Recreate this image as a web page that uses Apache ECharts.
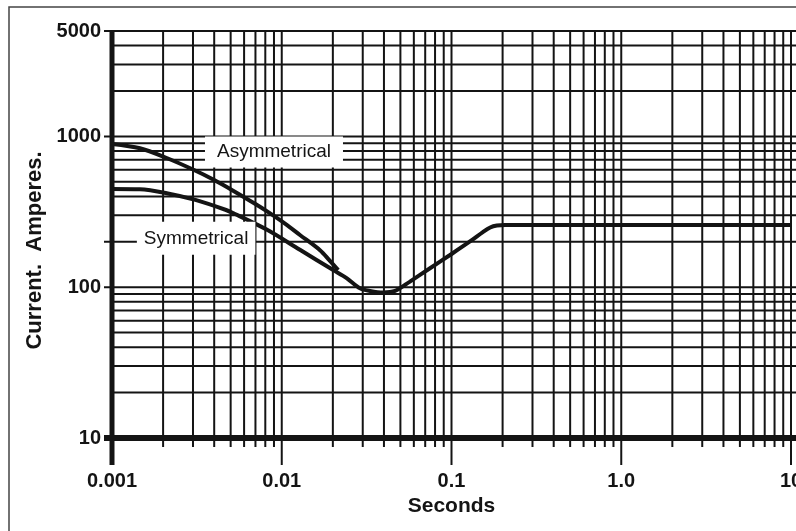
<!DOCTYPE html>
<html><head><meta charset="utf-8">
<script src="https://cdn.jsdelivr.net/npm/echarts@6/dist/echarts.min.js"></script>
<style>html,body{margin:0;padding:0;background:#fff}#c{width:796px;height:531px}</style>
</head><body><div id="c"></div>
<script>
// ---- axis ticks & labels ----
const xTickValues = [0.001, 0.01, 0.1, 1, 10];
const xTickLabels = ['0.001', '0.01', '0.1', '1.0', '10'];
const yTickValues = [10, 100, 1000, 5000];
const yTickLabels = ['10', '100', '1000', '5000'];
const yTickMarks = [10, 100, 200, 1000, 5000];

// ---- log-paper grid lines ----
const xGridValues = [
  0.001, 0.002, 0.003, 0.004, 0.005, 0.006, 0.007, 0.008, 0.009,
  0.01, 0.02, 0.03, 0.04, 0.05, 0.06, 0.07, 0.08, 0.09,
  0.1, 0.2, 0.3, 0.4, 0.5, 0.6, 0.7, 0.8, 0.9,
  1, 2, 3, 4, 5, 6, 7, 8, 9, 10
];
const yGridValues = [
  10, 20, 30, 40, 50, 60, 70, 80, 90,
  100, 200, 300, 400, 500, 600, 700, 800, 900,
  1000, 2000, 3000, 4000, 5000
];

// ---- curves (seconds, amperes) ----
const asymTime    = [0.001, 0.00146, 0.0021, 0.0030, 0.0040, 0.0052, 0.0070, 0.0082, 0.0105, 0.0128, 0.0168, 0.0190, 0.0215];
const asymCurrent = [890,   834,     719,    603,    514,    435,    356,    318,    263,    222,    176,    152,    130];

const symTime    = [0.001, 0.00146, 0.0021, 0.0031, 0.0047, 0.0052, 0.0082, 0.0128, 0.0201, 0.0241, 0.0289, 0.0331, 0.0395, 0.0465, 0.0569, 0.0747, 0.098, 0.1285, 0.153, 0.169, 0.185, 0.207, 0.5, 1, 2, 5, 10];
const symCurrent = [448,   446,     420,    379,    325,    309,    240,    177,    130,    115,    98.3,   94.4,   92.2,   94.4,   109,    133.5,  163.5, 201,    232,   249,   256.5, 258.5, 258.5, 258.5, 258.5, 258.5, 258.5];

// ---- curve annotations ----
const curveNames = ['Asymmetrical', 'Symmetrical'];
const curveNameTime = [0.0090, 0.00313];
const curveNameCurrent = [787, 211];

const X_MIN = 0.001, X_MAX = 10, Y_MIN = 10, Y_MAX = 5000;
const INK = '#141414';
const FONT = 'Liberation Sans, Arial, Helvetica, sans-serif';

function fmt(values, labels) {
  return function (v) {
    const i = values.findIndex(t => Math.abs(Math.log10(t) - Math.log10(v)) < 1e-6);
    return i >= 0 ? labels[i] : '';
  };
}

const chart = echarts.init(document.getElementById('c'), null, {renderer: 'canvas'});
chart.setOption({
  animation: false,
  backgroundColor: '#fff',
  grid: {left: 112, right: 5, top: 31, bottom: 93, containLabel: false, outerBoundsMode: 'none'},
  graphic: [{
    type: 'rect', z: -10, silent: true,
    shape: {x: 9, y: 7, width: 820, height: 560},
    style: {fill: 'none', stroke: '#444', lineWidth: 1.5}
  }],
  xAxis: {
    type: 'log', logBase: 10, min: X_MIN, max: X_MAX,
    axisLine: {show: false}, axisTick: {show: false}, splitLine: {show: false},
    axisLabel: {
      formatter: fmt(xTickValues, xTickLabels), margin: 33,
      fontFamily: FONT, fontWeight: 'bold', fontSize: 20, color: INK,
      showMinLabel: true, showMaxLabel: true, alignMinLabel: 'center', alignMaxLabel: 'center', hideOverlap: false
    },
    name: 'Seconds', nameLocation: 'middle', nameGap: 57,
    nameTextStyle: {fontFamily: FONT, fontWeight: 'bold', fontSize: 21, color: INK}
  },
  yAxis: {
    type: 'log', logBase: 10, min: Y_MIN, max: Y_MAX,
    axisLine: {show: false}, axisTick: {show: false}, splitLine: {show: false},
    axisLabel: {
      formatter: fmt(yTickValues, yTickLabels), margin: 11,
      fontFamily: FONT, fontWeight: 'bold', fontSize: 20, color: INK,
      showMinLabel: true, showMaxLabel: true, hideOverlap: false
    },
    name: 'Current.  Amperes.', nameLocation: 'middle', nameGap: 65,
    nameTextStyle: {fontFamily: FONT, fontWeight: 'bold', fontSize: 22, color: INK, padding: [0, 32, 0, 0]}
  },
  series: [
    {
      type: 'custom', coordinateSystem: 'cartesian2d', silent: true, z: 1, clip: false,
      data: xGridValues.map(v => [v, Y_MIN]),
      encode: {x: 0, y: 1},
      renderItem: function (params, api) {
        const v = api.value(0);
        const top = api.coord([v, Y_MAX]);
        const bot = api.coord([v, Y_MIN]);
        const major = xTickValues.indexOf(v) >= 0;
        return {
          type: 'line',
          shape: {x1: top[0], y1: top[1], x2: bot[0], y2: bot[1] + (major ? 27 : 9)},
          style: {stroke: INK, lineWidth: v === X_MIN ? 5 : 2}
        };
      }
    },
    {
      type: 'custom', coordinateSystem: 'cartesian2d', silent: true, z: 1, clip: false,
      data: yGridValues.map(v => [X_MIN, v]),
      encode: {x: 0, y: 1},
      renderItem: function (params, api) {
        const v = api.value(1);
        const l = api.coord([X_MIN, v]);
        const r = api.coord([X_MAX, v]);
        const mark = yTickMarks.indexOf(v) >= 0;
        return {
          type: 'line',
          shape: {x1: l[0] - (mark ? 8 : 0), y1: l[1], x2: r[0] + 6, y2: r[1]},
          style: {stroke: INK, lineWidth: v === Y_MIN ? 6 : 2}
        };
      }
    },
    {
      type: 'line', name: 'Asymmetrical', z: 3, showSymbol: false, smooth: 0.3,
      data: asymTime.map((t, i) => [t, asymCurrent[i]]),
      lineStyle: {color: INK, width: 4}
    },
    {
      type: 'line', name: 'Symmetrical', z: 3, showSymbol: false, smooth: 0.3,
      data: symTime.map((t, i) => [t, symCurrent[i]]),
      lineStyle: {color: INK, width: 4}
    },
    {
      type: 'custom', coordinateSystem: 'cartesian2d', silent: true, z: 5, clip: false,
      data: curveNames.map((n, i) => [curveNameTime[i], curveNameCurrent[i]]),
      encode: {x: 0, y: 1},
      renderItem: function (params, api) {
        const p = api.coord([api.value(0), api.value(1)]);
        return {
          type: 'text', x: p[0], y: p[1],
          style: {
            text: curveNames[params.dataIndex],
            font: '19px ' + FONT, fill: INK,
            align: 'center', verticalAlign: 'middle',
            backgroundColor: '#fff',
            padding: params.dataIndex === 0 ? [6, 12, 6, 12] : [7, 7, 7, 7]
          }
        };
      }
    }
  ]
});
</script>
</body></html>
